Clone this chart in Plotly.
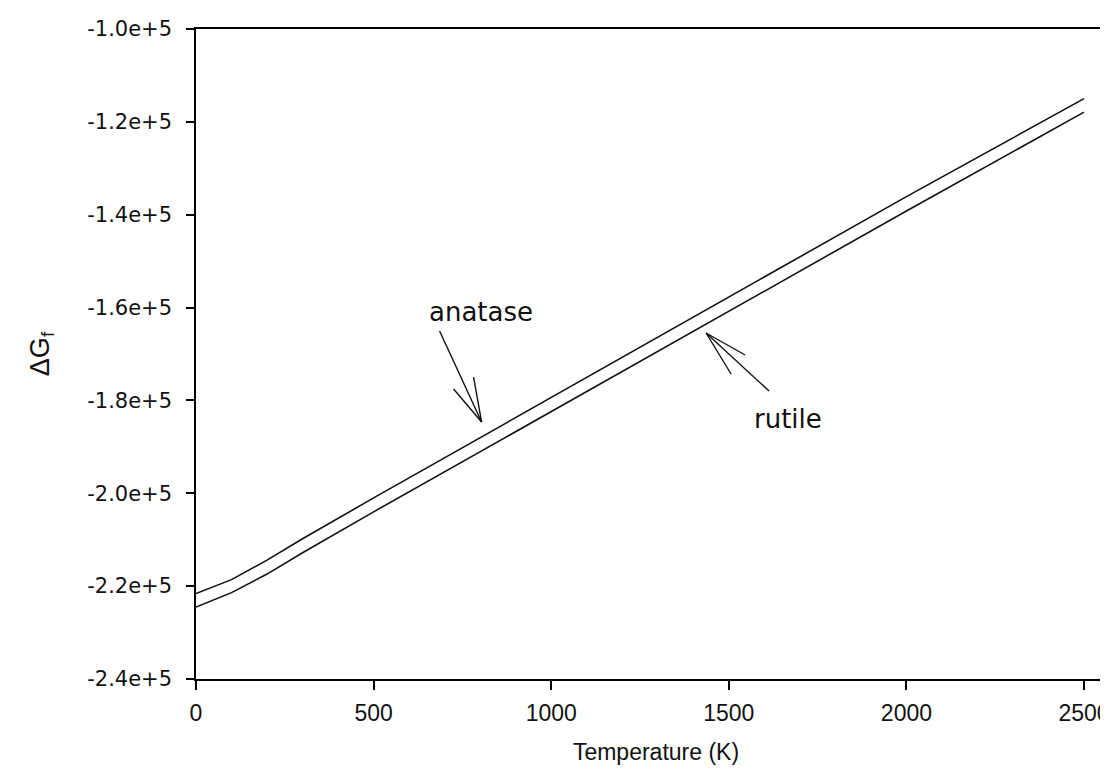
import plotly.graph_objects as go

# Temperature (K)
temps = [0, 100, 200, 300, 500, 1000, 1500, 2000, 2500]
# Delta G_f values
anatase = [-2.216e5, -2.186e5, -2.144e5, -2.098e5, -2.010e5, -1.794e5, -1.578e5, -1.361e5, -1.150e5]
rutile = [-2.245e5, -2.214e5, -2.174e5, -2.128e5, -2.040e5, -1.824e5, -1.608e5, -1.392e5, -1.179e5]

x_ticks = [0, 500, 1000, 1500, 2000, 2500]
y_ticks = [-2.4e5, -2.2e5, -2.0e5, -1.8e5, -1.6e5, -1.4e5, -1.2e5, -1.0e5]
y_tick_text = ["-2.4e+5", "-2.2e+5", "-2.0e+5", "-1.8e+5", "-1.6e+5", "-1.4e+5", "-1.2e+5", "-1.0e+5"]

# annotation anchor points (data units) and arrow geometry (pixel offsets from tip, y down)
anatase_tip = (804, -1.8465e5)
rutile_tip = (1436, -1.6548e5)
anatase_label = (801, -1.6095e5)
rutile_label = (1667, -1.840e5)
anatase_arrow_offsets = [(-42, -91), (-28, -33), (-8, -45)]
rutile_arrow_offsets = [(63, 58), (39, 22), (25, 41)]

FONT = "Liberation Sans, Arial, sans-serif"
WIDE = "DejaVu Sans, Verdana, sans-serif"
INK = "#111111"

fig = go.Figure()
fig.add_trace(go.Scatter(x=temps, y=anatase, mode="lines", name="anatase",
                         line=dict(color=INK, width=1.6)))
fig.add_trace(go.Scatter(x=temps, y=rutile, mode="lines", name="rutile",
                         line=dict(color=INK, width=1.6)))

fig.update_layout(
    width=1108, height=781,
    margin=dict(l=188, r=0, t=21, b=110),
    paper_bgcolor="white", plot_bgcolor="white",
    showlegend=False,
    font=dict(family=FONT, color=INK),
)

fig.update_xaxes(
    range=[0, 2590], tickvals=x_ticks, ticktext=[str(t) for t in x_ticks],
    showline=True, linecolor="black", linewidth=1.5, mirror=True,
    ticks="outside", ticklen=9, tickwidth=1.5, tickcolor="black",
    showgrid=False, zeroline=False,
    tickfont=dict(size=23, family=FONT),
    ticklabelstandoff=4,
    title=dict(text="Temperature (K)", font=dict(size=23, family=FONT), standoff=19),
)
fig.update_yaxes(
    range=[-2.4e5, -1.0e5], tickvals=y_ticks, ticktext=y_tick_text,
    showline=True, linecolor="black", linewidth=1.5,
    ticks="outside", ticklen=8, tickwidth=1.5, tickcolor="black",
    showgrid=False, zeroline=False,
    tickfont=dict(size=21, family=WIDE),
    ticklabelstandoff=10,
    title=dict(text="ΔG<sub>f</sub>", font=dict(size=27, family=FONT), standoff=30),
)

# Arrows drawn as a shaft and two long barbs meeting at the tip
for tip, offsets in ((anatase_tip, anatase_arrow_offsets), (rutile_tip, rutile_arrow_offsets)):
    for ax, ay in offsets:
        fig.add_shape(type="line", xref="x", yref="y",
                      xsizemode="pixel", ysizemode="pixel",
                      xanchor=tip[0], yanchor=tip[1],
                      x0=0, y0=0, x1=ax, y1=-ay,
                      line=dict(color=INK, width=1.4))

# Labels
fig.add_annotation(x=anatase_label[0], y=anatase_label[1], xref="x", yref="y", text="anatase",
                   showarrow=False, font=dict(size=26, family=WIDE, color=INK))
fig.add_annotation(x=rutile_label[0], y=rutile_label[1], xref="x", yref="y", text="rutile",
                   showarrow=False, font=dict(size=26, family=WIDE, color=INK))

fig.write_html("out.html")
